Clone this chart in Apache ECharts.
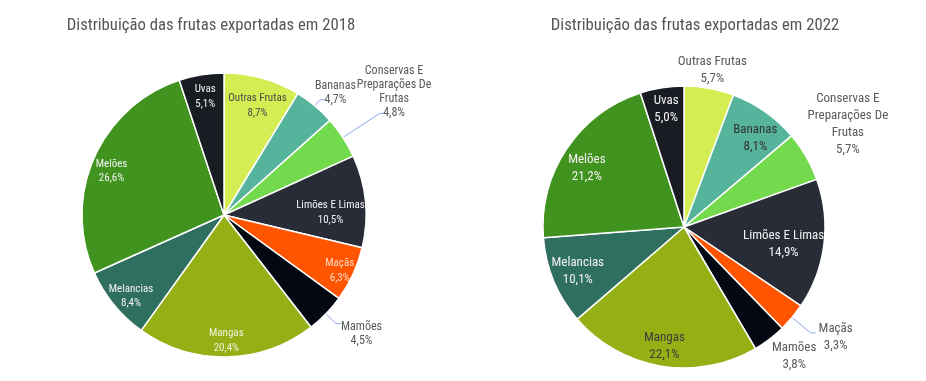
<!DOCTYPE html>
<html><head><meta charset="utf-8">
<script src="https://cdn.jsdelivr.net/npm/echarts@6/dist/echarts.min.js"></script>
<style>html,body{margin:0;padding:0;background:#fff}#c{width:926px;height:381px}</style>
</head><body><div id="c"></div>
<script>
// ---- data ----
const categories = ['Outras Frutas','Bananas','Conservas E Preparações De Frutas','Limões E Limas','Maçãs','Mamões','Mangas','Melancias','Melões','Uvas'];
const values2018 = [8.7, 4.7, 4.8, 10.5, 6.3, 4.5, 20.4, 8.4, 26.6, 5.1];
const values2022 = [5.7, 8.1, 5.7, 14.9, 3.3, 3.8, 22.1, 10.1, 21.2, 5.0];
const titles = ['Distribuição das frutas exportadas em 2018', 'Distribuição das frutas exportadas em 2022'];

// ---- style ----
const colors = ['#d4ed53','#55b49b','#73d94d','#282c37','#ff5400','#040812','#94b015','#2f6f5f','#40931f','#1a1c24'];
const FONT = '"Roboto Condensed", "Liberation Sans Narrow", sans-serif';
const LINE = '#8ea6ee';
const GREY = '#5a5a5a';
const LIGHT = '#f2f2f2';

function fmtPct(v){ return v.toFixed(1).replace('.', ',') + '%'; }
function wrapName(n){ return n.replace(' Preparações De Frutas', '\nPreparações De\nFrutas'); }
function makeFormatter(){
  return function(p){
    const lines = wrapName(p.name).split('\n').concat([fmtPct(p.value)]);
    return lines.map(l => '{t|' + l + '}').join('\n');
  };
}
function richLabel(size, lh, color){
  return { t: { align: 'center', fontSize: size, lineHeight: lh, color: color, fontFamily: FONT, overflow: 'none' } };
}
function layoutFn(offsets){
  return function(p){
    const o = offsets[p.dataIndex];
    return o ? { dx: o[0], dy: o[1] } : {};
  };
}

function buildSeries(values, cfg){
  const out = [];
  out.push({
    type: 'pie', center: cfg.center, radius: [0, cfg.r], startAngle: 90, clockwise: true,
    avoidLabelOverlap: false, animation: false, silent: true,
    itemStyle: { borderColor: '#fff', borderWidth: 1.5 },
    label: { show: false, overflow: 'none' }, labelLine: { show: false },
    labelLayout: layoutFn(cfg.lineOffsets || {}),
    data: categories.map((n, i) => {
      const d = { name: n, value: values[i], itemStyle: { color: colors[i] } };
      const ln = cfg.lines[i];
      if (ln) {
        d.label = { show: true, position: 'outside', formatter: makeFormatter(), distanceToLabelLine: 3, overflow: 'none',
          rich: richLabel(cfg.outSize, cfg.outLh, GREY) };
        d.labelLine = { show: true, length: ln.length, length2: ln.length2, smooth: false,
          lineStyle: { color: LINE, width: 1 } };
      }
      return d;
    })
  });
  cfg.rings.forEach(ring => {
    out.push({
      type: 'pie', center: cfg.center, radius: [ring.r0, ring.r1], startAngle: 90, clockwise: true,
      avoidLabelOverlap: false, animation: false, silent: true, z: 5,
      itemStyle: { color: 'transparent', borderWidth: 0 },
      labelLine: { show: false },
      label: { show: false, overflow: 'none' },
      labelLayout: layoutFn(ring.offsets || {}),
      data: categories.map((n, i) => {
        const d = { name: n, value: values[i] };
        if (ring.items[i] !== undefined) {
          d.label = { show: true, position: 'inside', formatter: makeFormatter(), overflow: 'none',
            rich: richLabel(ring.size || cfg.size, ring.lh || cfg.lh, ring.items[i]) };
        }
        return d;
      })
    });
  });
  return out;
}

const left = buildSeries(values2018, {
  center: [224, 215], r: 142, size: 11, lh: 14.5, outSize: 12, outLh: 14,
  lines: { 1: { length: 8, length2: 5 }, 2: { length: 44, length2: 5 }, 5: { length: 14, length2: 5 } },
  lineOffsets: { 1: [-13, -7], 2: [-31, -21], 5: [-3, 10] },
  rings: [ { r0: 100, r1: 142,
    items: { 0: '#4a4a4a', 3: LIGHT, 4: '#ffd9c4', 6: '#eef3d8', 7: LIGHT, 8: LIGHT, 9: LIGHT },
    offsets: { 0: [0, 10], 3: [-17, 10], 4: [3, 4], 6: [0, 2], 7: [3, 3], 8: [1, 6], 9: [1, 4] } } ]
});
const right = buildSeries(values2022, {
  center: [684, 227], r: 141, size: 13, lh: 17, outSize: 13, outLh: 17,
  lines: { 4: { length: 24, length2: 5 } },
  lineOffsets: { 4: [0, 4] },
  rings: [
    { r0: 94, r1: 141, items: { 1: '#333333', 3: LIGHT, 6: '#3d3d3d', 7: LIGHT, 8: LIGHT, 9: LIGHT },
      offsets: { 1: [2, 10], 3: [-20, 2], 7: [5, -2], 8: [3, 8], 9: [1, 1] } },
    { r0: 141, r1: 171, items: { 0: GREY } },
    { r0: 141, r1: 187, items: { 5: GREY }, offsets: { 5: [9, -4] } },
    { r0: 141, r1: 243, items: { 2: GREY }, offsets: { 2: [-5, -5] } }
  ]
});

const chart = echarts.init(document.getElementById('c'), null, { renderer: 'canvas' });
chart.setOption({
  backgroundColor: '#fff',
  animation: false,
  title: [
    { text: titles[0], left: 206, top: 12, textAlign: 'center',
      textStyle: { fontFamily: FONT, fontSize: 16.7, fontWeight: 'normal', color: '#555' } },
    { text: titles[1], left: 690, top: 12, textAlign: 'center',
      textStyle: { fontFamily: FONT, fontSize: 16.7, fontWeight: 'normal', color: '#555' } }
  ],
  series: left.concat(right)
});
</script></body></html>
